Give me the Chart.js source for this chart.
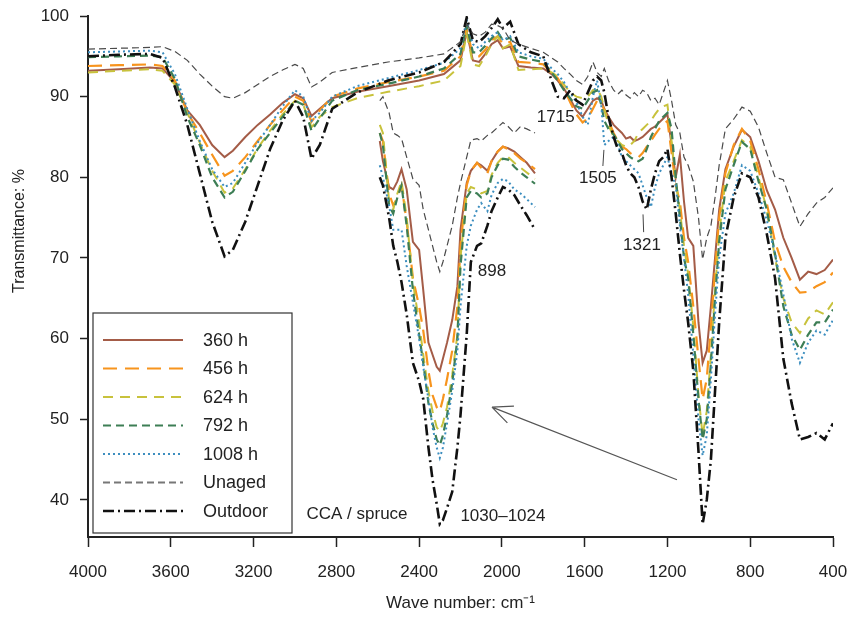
<!DOCTYPE html>
<html>
<head>
<meta charset="utf-8">
<script src="https://cdn.jsdelivr.net/npm/chart.js@4/dist/chart.umd.min.js"></script>
<style>
html, body { margin: 0; padding: 0; background: #fff; }
</style>
</head>
<body>
<canvas id="chart" width="851" height="617"></canvas>
<script>
// wave numbers of the main spectrum (cm-1)
var mainWn = [
  4000,3850,3700,3640,3580,3520,3460,3400,3340,3300,
  3240,3180,3120,3060,3000,2960,2920,2880,2820,2700,
  2550,2400,2280,2200,2170,2140,2110,2080,2050,2020,
  1995,1960,1920,1860,1800,1760,1730,1700,1670,1640,
  1610,1585,1560,1540,1520,1505,1485,1460,1440,1420,
  1400,1380,1360,1340,1320,1300,1280,1260,1240,1220,
  1200,1180,1160,1140,1120,1100,1075,1050,1030,1010,
  990,970,950,920,880,840,800,760,720,680,
  640,600,560,520,480,440,400
];

var h360 = [
  93.2,93.4,93.6,93.5,91.8,88.3,86.5,84.0,82.5,83.3,
  85.0,86.5,87.8,89.2,90.3,89.8,87.6,88.5,89.8,90.6,
  91.3,92.0,92.8,94.5,98.0,94.5,94.3,95.3,96.5,97.0,
  96.0,96.2,93.8,93.6,93.5,92.8,92.0,91.0,89.7,88.3,
  87.5,88.5,89.5,89.8,89.5,88.5,87.5,86.5,86.0,85.5,
  84.8,85.0,84.5,84.7,85.0,85.5,86.0,86.3,86.8,87.3,
  87.8,84.0,80.0,82.8,77.0,72.5,71.5,62.0,57.0,58.5,
  64.0,70.0,76.0,81.0,83.8,85.9,85.0,82.0,78.4,76.0,
  72.5,70.0,67.3,68.3,68.0,68.5,69.8
];
var h456 = [
  93.8,93.9,94.0,93.8,92.0,88.0,85.5,82.8,80.2,80.8,
  82.5,84.5,86.5,88.3,90.0,89.5,86.9,88.3,90.0,91.0,
  91.8,92.5,93.2,95.0,98.5,95.0,95.0,95.8,97.0,97.5,
  96.5,96.8,94.3,94.2,94.0,93.0,92.3,91.0,89.3,87.8,
  86.8,87.3,88.5,89.5,89.3,88.3,87.0,85.5,84.5,83.8,
  83.5,83.0,82.7,82.5,83.0,83.8,84.5,85.3,86.0,86.5,
  87.0,83.0,79.0,77.0,72.5,69.5,64.0,57.5,52.5,55.0,
  61.5,68.5,75.0,80.5,84.0,86.0,84.5,81.0,76.8,72.0,
  68.9,67.0,65.7,65.8,66.5,67.0,68.2
];
var h624 = [
  93.0,93.2,93.4,93.2,91.5,88.0,84.3,80.8,78.1,78.6,
  81.0,83.6,85.8,87.8,89.5,89.0,86.2,87.5,88.7,89.8,
  90.6,91.3,92.0,93.8,97.8,94.0,93.8,95.0,96.5,97.5,
  96.0,96.5,93.3,93.4,93.5,93.0,92.5,91.5,90.5,90.0,
  89.8,90.0,90.8,91.0,90.0,88.5,86.5,85.0,84.5,84.0,
  83.8,84.0,84.5,85.5,86.0,86.5,87.0,87.8,88.5,88.8,
  89.0,84.5,79.5,76.0,71.5,68.0,61.5,53.0,48.0,51.0,
  58.0,66.0,73.0,79.5,82.0,84.6,83.8,80.0,76.0,70.0,
  65.0,62.0,60.7,62.5,63.5,63.0,64.5
];
var h792 = [
  94.9,95.0,95.1,94.9,92.2,87.5,84.0,80.0,77.5,78.2,
  80.8,83.5,85.5,87.5,89.5,89.0,85.8,87.3,89.5,90.8,
  91.6,92.5,93.5,95.3,98.8,95.5,95.5,96.3,97.2,98.0,
  97.0,97.3,95.0,94.6,94.3,93.0,92.0,90.8,89.8,88.8,
  88.5,89.5,90.5,90.8,89.0,87.0,86.0,85.3,84.5,83.5,
  83.0,82.5,82.2,82.0,82.3,83.5,85.0,86.0,87.0,87.5,
  88.0,86.0,80.0,75.0,70.0,67.5,60.5,52.5,47.5,50.0,
  57.0,65.0,72.0,78.5,81.5,84.4,83.5,79.5,76.0,70.5,
  64.0,60.5,58.6,60.5,62.0,62.0,63.6
];
var h1008 = [
  95.5,95.6,95.7,95.5,92.8,88.5,84.5,81.0,78.8,79.3,
  81.8,84.3,86.5,88.8,90.8,90.0,87.0,88.0,90.0,91.3,
  92.3,93.3,94.2,96.0,99.5,96.5,96.0,96.8,97.5,98.0,
  97.0,97.5,95.5,95.0,94.7,93.5,92.8,91.8,90.5,89.3,
  87.5,86.5,90.0,92.0,89.0,84.0,84.5,85.0,84.0,82.5,
  82.0,81.5,81.0,80.5,79.0,77.5,76.3,78.8,80.5,81.5,
  82.5,80.5,79.0,74.0,70.0,65.5,58.0,50.0,45.5,48.0,
  55.0,63.0,70.0,75.5,78.0,81.5,80.8,78.0,74.7,70.5,
  65.5,60.0,57.0,59.5,61.0,60.5,62.3
];
var unaged = [
  95.9,96.0,96.1,96.2,95.6,94.5,92.8,91.3,90.0,89.8,
  90.5,91.5,92.5,93.3,94.0,93.5,91.2,91.8,93.0,93.6,
  94.3,94.8,95.3,96.8,99.0,97.8,97.5,98.0,99.0,98.8,
  98.5,97.0,96.5,96.0,95.5,94.8,94.3,93.5,92.8,92.0,
  91.5,92.5,94.3,93.0,92.5,93.5,92.0,90.8,90.3,90.8,
  90.2,89.8,90.5,90.0,90.8,90.5,89.5,89.8,89.0,90.5,
  92.0,89.5,86.5,85.5,82.5,81.5,79.5,75.0,69.8,72.5,
  74.0,77.5,81.5,86.0,87.2,88.7,88.2,86.2,83.0,80.0,
  79.7,76.8,73.9,75.5,76.8,77.5,78.7
];
var outdoor = [
  95.0,95.2,95.3,94.8,91.2,86.5,80.5,74.5,70.2,71.0,
  74.5,79.0,83.5,87.0,89.5,87.5,82.3,84.0,88.5,90.5,
  92.0,93.0,94.3,96.5,99.8,97.0,96.8,97.5,98.5,99.6,
  98.5,99.3,96.5,95.5,95.0,92.0,90.0,89.8,90.8,89.5,
  89.0,90.5,92.0,92.5,92.0,90.5,87.5,85.0,83.5,83.0,
  81.5,80.5,80.0,78.8,77.0,76.0,78.5,80.5,82.0,82.5,
  83.5,80.0,75.5,70.5,66.0,62.0,56.0,46.0,37.0,40.0,
  45.0,53.5,62.0,72.5,77.5,80.5,80.0,77.5,73.0,67.5,
  57.5,52.0,47.5,47.8,48.3,47.5,49.5
];

// enlarged 1030 band drawn as an inset
var insetWn = [
  2590,2575,2545,2525,2505,2485,2460,2430,2400,2380,
  2355,2335,2315,2300,2285,2265,2240,2215,2200,2170,
  2150,2120,2100,2070,2050,2020,1995,1970,1940,1910,
  1880,1840
];
var inset360 = [
  84.5,82.0,78.8,78.5,79.5,81.0,78.5,72.0,71.0,66.0,
  59.5,58.0,56.5,56.0,57.5,59.5,62.3,66.5,73.5,79.3,
  80.8,81.8,81.5,80.8,82.0,83.2,83.8,83.6,83.2,82.5,
  81.8,80.5
];
var inset456 = [
  85.5,84.5,78.0,76.5,77.5,79.0,74.5,67.5,64.0,61.0,
  56.0,53.0,51.5,51.0,52.5,55.0,58.5,64.0,71.5,79.0,
  80.8,81.8,81.2,80.5,82.0,83.2,83.8,83.5,83.0,82.3,
  81.8,81.0
];
var inset624 = [
  86.5,85.5,77.0,76.0,78.0,79.5,75.0,67.0,62.0,58.0,
  53.5,51.0,49.0,48.5,49.5,51.5,55.5,60.5,70.0,78.0,
  78.8,78.5,78.0,78.3,80.3,81.8,82.5,82.5,81.8,81.2,
  80.6,79.8
];
var inset792 = [
  85.5,84.0,76.5,75.5,77.5,79.0,74.0,66.0,60.5,57.0,
  52.0,49.5,47.5,46.8,48.0,50.5,54.5,60.0,69.0,77.5,
  78.3,78.0,77.5,78.0,80.0,81.5,82.3,82.2,81.3,80.6,
  80.0,79.2
];
var inset1008 = [
  81.5,80.0,76.5,73.5,73.5,73.5,69.0,64.5,60.0,56.5,
  52.5,49.0,46.5,45.2,46.5,49.5,53.5,58.5,64.0,71.5,
  74.0,76.0,76.8,75.8,77.8,79.3,79.8,79.5,78.5,78.0,
  77.3,76.3
];
var insetUnaged = [
  89.5,90.0,88.0,85.5,85.2,84.8,82.5,79.8,79.0,76.0,
  73.5,71.5,69.5,68.3,69.5,71.5,74.0,77.5,79.3,82.5,
  84.6,84.8,84.5,85.2,85.5,86.2,86.8,86.3,85.5,86.3,
  86.0,85.5
];
var insetOutdoor = [
  80.0,79.0,75.0,71.5,69.5,67.0,63.0,57.0,54.7,52.5,
  46.5,42.5,39.5,37.0,37.5,39.0,41.0,46.5,50.5,60.5,
  69.5,71.5,71.8,74.0,75.8,77.5,78.8,78.5,77.8,76.5,
  75.3,73.5
];

var xTicks = [4000,3600,3200,2800,2400,2000,1600,1200,800,400];
var yTicks = [40,50,60,70,80,90,100];

var seriesNames = ['360 h','456 h','624 h','792 h','1008 h','Unaged','Outdoor'];
var mainSeries = [h360, h456, h624, h792, h1008, unaged, outdoor];
var insetSeries = [inset360, inset456, inset624, inset792, inset1008, insetUnaged, insetOutdoor];

// look of each series
var seriesColors = ['#a45c47','#f7941d','#c8c23c','#3d7e55','#3c8ebf','#4a4a4a','#111111'];
var seriesDash = [[], [14,8], [10,7], [8,5], [2,3], [7,4], [11,4,2,4]];
var seriesWidth = [2, 2.2, 2, 2.2, 2, 1.2, 2.6];
var drawOrder = [5,6,4,3,2,1,0];

var FONT = '"Liberation Sans", Arial, sans-serif';

// text notes placed in data units
var notes = [
  {text: '1715', wn: 1740, t: 87.4},
  {text: '1505', wn: 1536, t: 79.9},
  {text: '1321', wn: 1323, t: 71.6},
  {text: '898', wn: 2048, t: 68.3},
  {text: 'CCA / spruce', wn: 2700, t: 38.2},
  {text: '1030\u20131024', wn: 1995, t: 38.0}
];
var leaders = [
  {wn1: 1512, t1: 81.4, wn2: 1507, t2: 83.4},
  {wn1: 1315, t1: 73.2, wn2: 1318, t2: 75.4}
];
var arrow = {fromWn: 1154, fromT: 42.5, toWn: 2048, toT: 51.5};

function pairs(xs, ys) {
  var out = [];
  for (var i = 0; i < xs.length; i++) out.push({x: xs[i], y: ys[i]});
  return out;
}

var datasets = [];
drawOrder.forEach(function(k) {
  [mainSeries[k], insetSeries[k]].forEach(function(vals, j) {
    datasets.push({
      label: seriesNames[k],
      data: pairs(j === 0 ? mainWn : insetWn, vals),
      borderColor: seriesColors[k],
      borderWidth: seriesWidth[k],
      borderDash: seriesDash[k],
      fill: false,
      tension: 0,
      pointRadius: 0
    });
  });
});

var overlay = {
  id: 'overlay',
  afterDatasetsDraw: function(chart) {
    var ctx = chart.ctx, xs = chart.scales.x, ys = chart.scales.y, area = chart.chartArea;
    ctx.save();
    ctx.fillStyle = '#222';
    ctx.textAlign = 'center';
    ctx.textBaseline = 'middle';
    ctx.font = '17px ' + FONT;
    notes.forEach(function(n) {
      ctx.fillText(n.text, xs.getPixelForValue(n.wn), ys.getPixelForValue(n.t));
    });

    ctx.strokeStyle = '#444';
    ctx.lineWidth = 1;
    leaders.forEach(function(l) {
      ctx.beginPath();
      ctx.moveTo(xs.getPixelForValue(l.wn1), ys.getPixelForValue(l.t1));
      ctx.lineTo(xs.getPixelForValue(l.wn2), ys.getPixelForValue(l.t2));
      ctx.stroke();
    });

    // arrow
    var ax = xs.getPixelForValue(arrow.fromWn), ay = ys.getPixelForValue(arrow.fromT);
    var bx = xs.getPixelForValue(arrow.toWn), by = ys.getPixelForValue(arrow.toT);
    ctx.strokeStyle = '#555';
    ctx.lineWidth = 1.2;
    ctx.beginPath();
    ctx.moveTo(ax, ay); ctx.lineTo(bx, by);
    var ang = Math.atan2(ay - by, ax - bx);
    [0.42, -0.42].forEach(function(d) {
      ctx.moveTo(bx, by);
      ctx.lineTo(bx + 22 * Math.cos(ang + d), by + 22 * Math.sin(ang + d));
    });
    ctx.stroke();

    // legend box
    var lx = area.left + 5, ly = 313, lw = 199, lh = 220;
    ctx.fillStyle = '#fff';
    ctx.fillRect(lx, ly, lw, lh);
    ctx.strokeStyle = '#333';
    ctx.lineWidth = 1.2;
    ctx.setLineDash([]);
    ctx.strokeRect(lx, ly, lw, lh);
    ctx.font = '18px ' + FONT;
    ctx.textAlign = 'left';
    seriesNames.forEach(function(name, k) {
      var yy = ly + 27 + k * 28.5;
      ctx.beginPath();
      ctx.strokeStyle = k === 5 ? '#777' : seriesColors[k];
      ctx.lineWidth = k === 5 ? 1.8 : seriesWidth[k];
      ctx.setLineDash(seriesDash[k]);
      ctx.moveTo(lx + 10, yy);
      ctx.lineTo(lx + 90, yy);
      ctx.stroke();
      ctx.setLineDash([]);
      ctx.fillStyle = '#222';
      ctx.fillText(name, lx + 110, yy + 1);
    });

    // y title
    ctx.font = '16px ' + FONT;
    ctx.textAlign = 'center';
    ctx.translate(20, 231);
    ctx.rotate(-Math.PI / 2);
    ctx.fillText('Transmittance: %', 0, 0);
    ctx.restore();
  }
};

Chart.defaults.font.family = FONT;
Chart.defaults.color = '#222';

new Chart(document.getElementById('chart'), {
  type: 'line',
  data: {datasets: datasets},
  options: {
    responsive: false,
    animation: false,
    layout: {padding: {top: 16, right: 18, left: 0, bottom: 0}},
    plugins: {legend: {display: false}, tooltip: {enabled: false}},
    scales: {
      x: {
        type: 'linear',
        reverse: true,
        min: 400,
        max: 4000,
        afterBuildTicks: function(s) { s.ticks = xTicks.map(function(v) { return {value: v}; }); },
        afterFit: function(s) { s.height = 80; s.paddingLeft = 0; s.paddingRight = 0; },
        ticks: {font: {size: 17}, padding: 15, maxRotation: 0, autoSkip: false,
          callback: function(v) { return String(v); }},
        grid: {drawOnChartArea: false, tickLength: 10, color: '#222', tickWidth: 1.5},
        border: {color: '#222', width: 2},
        title: {display: true, text: 'Wave number: cm\u207B\u00B9', font: {size: 17}, padding: {top: 0, bottom: 3}}
      },
      y: {
        min: 35.4,
        max: 100,
        afterBuildTicks: function(s) { s.ticks = yTicks.map(function(v) { return {value: v}; }); },
        afterFit: function(s) { s.width = 88; s.paddingTop = 0; s.paddingBottom = 0; },
        ticks: {font: {size: 17}, padding: 11},
        grid: {drawOnChartArea: false, tickLength: 8, color: '#222', tickWidth: 1.5},
        border: {color: '#222', width: 2}
      }
    }
  },
  plugins: [overlay]
});
</script>
</body>
</html>
